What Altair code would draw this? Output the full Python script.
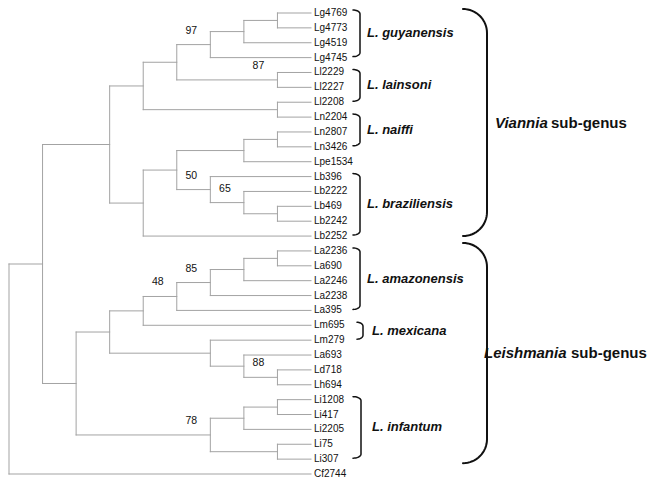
import math
import altair as alt
import pandas as pd

# ---------------- data ----------------
LEAVES = ["Lg4769", "Lg4773", "Lg4519", "Lg4745", "Ll2229", "Ll2227", "Ll2208",
          "Ln2204", "Ln2807", "Ln3426", "Lpe1534", "Lb396", "Lb2222", "Lb469",
          "Lb2242", "Lb2252", "La2236", "La690", "La2246", "La2238", "La395",
          "Lm695", "Lm279", "La693", "Ld718", "Lh694", "Li1208", "Li417",
          "Li2205", "Li75", "Li307", "Cf2744"]

# internal nodes: (id, child a, child b, depth from root)
NODES = [
    ("A", "Lg4769", "Lg4773", 8), ("B", "A", "Lg4519", 7), ("C", "B", "Lg4745", 6),
    ("D", "Ll2229", "Ll2227", 8), ("E", "C", "D", 5), ("F", "Ll2208", "Ln2204", 8),
    ("G", "E", "F", 4), ("H", "Ln2807", "Ln3426", 8), ("I", "H", "Lpe1534", 7),
    ("J", "Lb469", "Lb2242", 8), ("K", "Lb2222", "J", 7), ("L", "Lb396", "K", 6),
    ("M", "I", "L", 5), ("N", "M", "Lb2252", 4), ("O", "G", "N", 3),
    ("P", "La2236", "La690", 8), ("Q", "P", "La2246", 7), ("R", "Q", "La2238", 6),
    ("S", "R", "La395", 5), ("T", "S", "Lm695", 4), ("U", "Ld718", "Lh694", 8),
    ("V", "La693", "U", 7), ("W", "Lm279", "V", 6), ("X", "T", "W", 3),
    ("Y", "Li1208", "Li417", 8), ("Z", "Y", "Li2205", 7), ("AA", "Li75", "Li307", 8),
    ("AB", "Z", "AA", 6), ("AC", "X", "AB", 2), ("AD", "O", "AC", 1),
    ("ROOT", "AD", "Cf2744", 0),
]
LEAF_DEPTH = 9

BOOT_NODES = ["C", "D", "L", "K", "R", "S", "U", "AB"]
BOOT_VALUES = [97, 87, 50, 65, 85, 48, 88, 78]

SPECIES = ["L. guyanensis", "L. lainsoni", "L. naiffi", "L. braziliensis",
           "L. amazonensis", "L. mexicana", "L. infantum"]
SPECIES_FIRST = ["Lg4769", "Ll2229", "Ln2204", "Lb396", "La2236", "Lm695", "Li1208"]
SPECIES_LAST = ["Lg4745", "Ll2208", "Ln3426", "Lb2252", "La395", "Lm279", "Li307"]

SUBGENUS_ITALIC = ["Viannia", "Leishmania"]
SUBGENUS_REST = ["sub-genus", "sub-genus"]
SUBGENUS_FIRST = ["Lg4769", "La2236"]
SUBGENUS_LAST = ["Lb2252", "Li307"]

# ---------------- layout ----------------
W, H = 640, 472
X_RANGE = [1, 303]
Y_RANGE = [5, 466]
NLEAF = len(LEAVES)
FONT = "Liberation Sans"


def px_to_x(px):
    return (px - X_RANGE[0]) / (X_RANGE[1] - X_RANGE[0]) * LEAF_DEPTH


def py_to_y(py):
    return (py - Y_RANGE[0]) / (Y_RANGE[1] - Y_RANGE[0]) * (NLEAF - 1)


def leaf_py(name):
    i = LEAVES.index(name)
    return Y_RANGE[0] + i * (Y_RANGE[1] - Y_RANGE[0]) / (NLEAF - 1)


pos = {n: (LEAF_DEPTH, i) for i, n in enumerate(LEAVES)}
for nid, a, b, d in NODES:
    pos[nid] = (d, (pos[a][1] + pos[b][1]) / 2)

segs = []
for nid, a, b, d in NODES:
    segs.append(dict(x=d, x2=d, y=pos[a][1], y2=pos[b][1]))
    for c in (a, b):
        segs.append(dict(x=d, x2=pos[c][0], y=pos[c][1], y2=pos[c][1]))

xs = alt.Scale(domain=[0, LEAF_DEPTH], range=X_RANGE, zero=False, nice=False)
ys = alt.Scale(domain=[0, NLEAF - 1], range=Y_RANGE, zero=False, nice=False)
X = alt.X("x:Q", scale=xs, axis=None)
Y = alt.Y("y:Q", scale=ys, axis=None)

tree = alt.Chart(pd.DataFrame(segs)).mark_rule(
    color="#a3a3a3", strokeWidth=1, strokeCap="square"
).encode(x=X, x2="x2:Q", y=Y, y2="y2:Q")

leaf_df = pd.DataFrame({"name": LEAVES, "x": [LEAF_DEPTH] * NLEAF, "y": list(range(NLEAF))})
leaf_labels = alt.Chart(leaf_df).mark_text(
    align="left", baseline="middle", dx=3, fontSize=10, font=FONT, color="#111"
).encode(x=X, y=Y, text="name:N")

boot_df = pd.DataFrame({
    "x": [pos[n][0] for n in BOOT_NODES],
    "y": [pos[n][1] for n in BOOT_NODES],
    "v": [str(v) for v in BOOT_VALUES],
})
boot = alt.Chart(boot_df).mark_text(
    align="center", baseline="middle", dx=-19, dy=-14, fontSize=10.5, font=FONT, color="#111"
).encode(x=X, y=Y, text="v:N")


def bracket(gid, xl, xr, yt, yb, r, n=10):
    w = xr - xl
    pts = []
    for k in range(n + 1):
        t = (math.pi / 2) * k / n
        pts.append((xl + w * math.sin(t), yt + r * (1 - math.cos(t))))
    for k in range(n, -1, -1):
        t = (math.pi / 2) * k / n
        pts.append((xl + w * math.sin(t), yb - r * (1 - math.cos(t))))
    return [dict(g=gid, k=j, x=px_to_x(px), y=py_to_y(py)) for j, (px, py) in enumerate(pts)]


small = []
sp_text = []
for s, f, l in zip(SPECIES, SPECIES_FIRST, SPECIES_LAST):
    yt = leaf_py(f) - 3
    yb = leaf_py(l) - 1
    if s == "L. mexicana":
        xl, xr, tx = 349, 355, 364
    elif s == "L. infantum":
        xl, xr, tx = 345, 353, 364
    else:
        xl, xr, tx = 345, 352, 359
    small += bracket(s, xl, xr, yt, yb, 4)
    sp_text.append(dict(t=s, x=px_to_x(tx), y=py_to_y((yt + yb) / 2)))

big = []
big_it = []
big_rest = []
for it, rest, f, l in zip(SUBGENUS_ITALIC, SUBGENUS_REST, SUBGENUS_FIRST, SUBGENUS_LAST):
    if it == "Viannia":
        yt, yb = leaf_py(f) - 4, leaf_py(l)
        tx, rx = 487, 543
    else:
        yt, yb = leaf_py(f) - 8, leaf_py(l) + 4
        tx, rx = 476, 563
    big += bracket(it, 455, 479, yt, yb, 24, n=16)
    ym = (yt + yb) / 2
    big_it.append(dict(t=it, x=px_to_x(tx), y=py_to_y(ym)))
    big_rest.append(dict(t=rest, x=px_to_x(rx), y=py_to_y(ym)))

small_br = alt.Chart(pd.DataFrame(small)).mark_line(
    color="#111", strokeWidth=1.5, strokeCap="round", strokeJoin="round"
).encode(x=X, y=Y, detail="g:N", order="k:Q")

big_br = alt.Chart(pd.DataFrame(big)).mark_line(
    color="#111", strokeWidth=2, strokeCap="round", strokeJoin="round"
).encode(x=X, y=Y, detail="g:N", order="k:Q")

sp_labels = alt.Chart(pd.DataFrame(sp_text)).mark_text(
    align="left", baseline="middle", fontSize=13, fontWeight="bold",
    fontStyle="italic", font=FONT, color="#111"
).encode(x=X, y=Y, text="t:N")

big_labels_it = alt.Chart(pd.DataFrame(big_it)).mark_text(
    align="left", baseline="middle", fontSize=15, fontWeight="bold",
    fontStyle="italic", font=FONT, color="#111"
).encode(x=X, y=Y, text="t:N")

big_labels_rest = alt.Chart(pd.DataFrame(big_rest)).mark_text(
    align="left", baseline="middle", fontSize=15, fontWeight="bold",
    font=FONT, color="#111"
).encode(x=X, y=Y, text="t:N")

chart = alt.layer(
    tree, leaf_labels, boot, small_br, big_br, sp_labels, big_labels_it, big_labels_rest
).properties(
    width=W, height=H, autosize=alt.AutoSizeParams(type="none"), padding=0,
    background="white"
).configure_view(stroke=None)

chart.save("out.html", embed_options={"renderer": "svg", "actions": False})
